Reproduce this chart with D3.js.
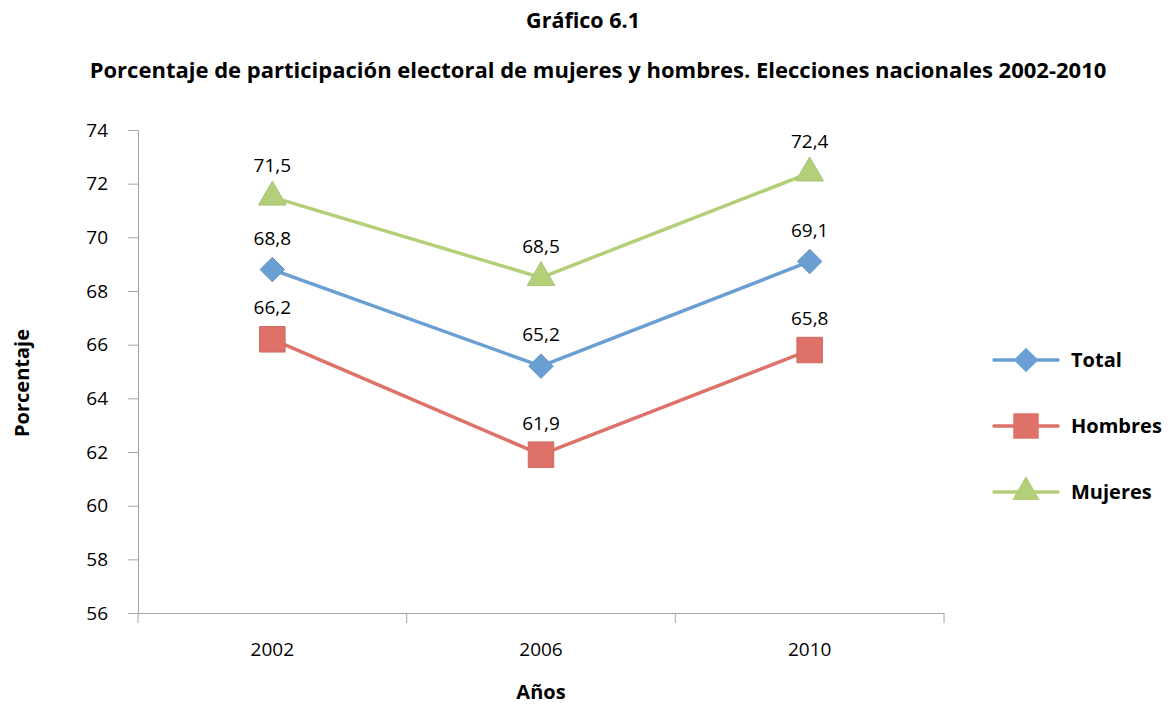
<!DOCTYPE html>
<html>
<head>
<meta charset="utf-8">
<script src="https://cdn.jsdelivr.net/npm/d3@7"></script>
<style>
  body { margin: 0; background: #fff; }
  svg text { font-family: "Open Sans", "Noto Sans", sans-serif; fill: #000; }
</style>
</head>
<body>
<svg id="chart" width="1168" height="707"></svg>
<script>
const years = ['2002', '2006', '2010'];
const total = [68.8, 65.2, 69.1];
const hombres = [66.2, 61.9, 65.8];
const mujeres = [71.5, 68.5, 72.4];
const yTicks = [56, 58, 60, 62, 64, 66, 68, 70, 72, 74];

// square diamond like the spreadsheet marker
const diamond = {
  draw(context, size) {
    const r = Math.sqrt(size / 2);
    context.moveTo(0, -r);
    context.lineTo(r, 0);
    context.lineTo(0, r);
    context.lineTo(-r, 0);
    context.closePath();
  }
};

const series = [
  { name: 'Total', values: total, color: '#6a9fd4', marker: diamond, size: 300 },
  { name: 'Hombres', values: hombres, color: '#de7168', marker: d3.symbolSquare, size: 650 },
  { name: 'Mujeres', values: mujeres, color: '#b3cf7a', marker: d3.symbolTriangle, size: 330 }
];

const svg = d3.select('#chart');
const margin = { top: 130, left: 138, right: 944, bottom: 613 };

const x = d3.scaleBand()
  .domain(years)
  .range([margin.left, margin.right]);

const y = d3.scaleLinear()
  .domain([56, 74])
  .range([margin.bottom, margin.top]);

// Titles
svg.append('text')
  .attr('x', 583).attr('y', 28)
  .attr('text-anchor', 'middle')
  .style('font-size', '21.5px').style('font-weight', 'bold')
  .text('Gráfico 6.1');

svg.append('text')
  .attr('x', 598).attr('y', 78)
  .attr('text-anchor', 'middle')
  .style('font-size', '22px').style('font-weight', 'bold')
  .text('Porcentaje de participación electoral de mujeres y hombres. Elecciones nacionales 2002-2010');

// Y axis
const yAxis = svg.append('g')
  .attr('transform', `translate(${margin.left},0)`)
  .call(d3.axisLeft(y).tickValues(yTicks).tickSize(10).tickPadding(20));
yAxis.attr('font-family', null).attr('font-size', null);
yAxis.selectAll('text').style('font-size', '19px');
yAxis.selectAll('line, path').attr('stroke', '#a6a6a6');

// X axis
const xAxis = svg.append('g')
  .attr('transform', `translate(0,${margin.bottom})`)
  .call(d3.axisBottom(x).tickSize(0).tickPadding(30));
xAxis.attr('font-family', null).attr('font-size', null);
xAxis.selectAll('text').style('font-size', '19px');
xAxis.select('path').attr('stroke', '#a6a6a6');
svg.append('g')
  .selectAll('line')
  .data(years.concat(['end']))
  .enter()
  .append('line')
  .attr('x1', (d, i) => margin.left + i * x.step())
  .attr('x2', (d, i) => margin.left + i * x.step())
  .attr('y1', margin.bottom)
  .attr('y2', margin.bottom + 10)
  .attr('stroke', '#a6a6a6');

// Axis titles
svg.append('text')
  .attr('transform', 'translate(29,383) rotate(-90)')
  .attr('text-anchor', 'middle')
  .style('font-size', '20px').style('font-weight', 'bold')
  .text('Porcentaje');

svg.append('text')
  .attr('x', x('2006') + x.bandwidth() / 2).attr('y', 699)
  .attr('text-anchor', 'middle')
  .style('font-size', '20px').style('font-weight', 'bold')
  .text('Años');

const cx = d => x(d) + x.bandwidth() / 2;
const line = d3.line()
  .x((d, i) => cx(years[i]))
  .y(d => y(d));

// Lines, markers, labels
series.forEach(s => {
  const g = svg.append('g');
  g.append('path')
    .datum(s.values)
    .attr('d', line)
    .attr('fill', 'none')
    .attr('stroke', s.color)
    .attr('stroke-width', 3.5);

  g.selectAll('.marker')
    .data(s.values)
    .enter()
    .append('path')
    .attr('class', 'marker')
    .attr('d', d3.symbol().type(s.marker).size(s.size))
    .attr('transform', (d, i) => `translate(${cx(years[i])},${y(d)})`)
    .attr('fill', s.color)
    .attr('stroke', d3.color(s.color).darker(0.2))
    .attr('stroke-width', 1);

  g.selectAll('.label')
    .data(s.values)
    .enter()
    .append('text')
    .attr('x', (d, i) => cx(years[i]))
    .attr('y', d => y(d) - 30)
    .attr('text-anchor', 'middle')
    .attr('dominant-baseline', 'middle')
    .style('font-size', '19px')
    .text(d => d.toFixed(1).replace('.', ','));
});

// Legend
const legend = svg.append('g')
  .selectAll('g')
  .data(series)
  .enter()
  .append('g')
  .attr('transform', (d, i) => `translate(994,${360 + i * 66})`);

legend.append('line')
  .attr('x1', 0).attr('x2', 64)
  .attr('stroke', d => d.color)
  .attr('stroke-width', 3.5)
  .attr('stroke-linecap', 'round');

legend.append('path')
  .attr('d', d => d3.symbol().type(d.marker).size(d.size)())
  .attr('transform', 'translate(32,0)')
  .attr('fill', d => d.color);

legend.append('text')
  .attr('x', 77)
  .attr('y', 2)
  .attr('dominant-baseline', 'middle')
  .style('font-size', '20px').style('font-weight', 'bold')
  .text(d => d.name);
</script>
</body>
</html>
